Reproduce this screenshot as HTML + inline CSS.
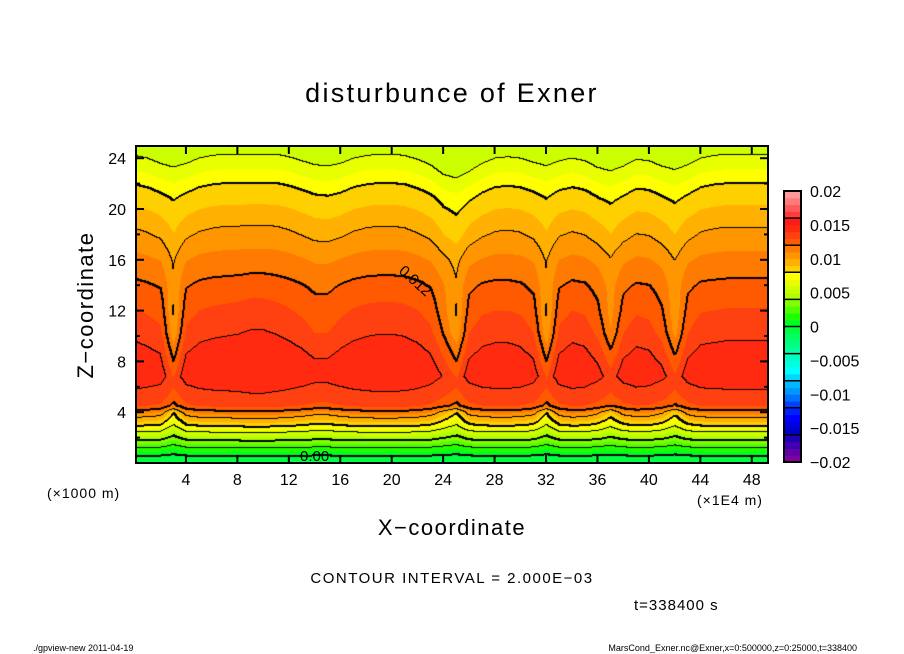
<!DOCTYPE html>
<html><head><meta charset="utf-8"><style>
body{margin:0;background:#fff;width:904px;height:654px;overflow:hidden;position:relative;font-family:"Liberation Sans",sans-serif}
#field{position:absolute;left:136px;top:146px}
#ov{position:absolute;left:0;top:0}
</style></head><body>
<canvas id="field" width="632" height="317"></canvas>
<svg id="ov" width="904" height="654" font-family="Liberation Sans, sans-serif">
<text x="452" y="102" font-size="27" letter-spacing="2.3" text-anchor="middle">disturbunce of Exner</text>
<g id="axes"></g>
<text transform="translate(93,305) rotate(-90)" font-size="22" letter-spacing="1.5" text-anchor="middle">Z−coordinate</text>
<text x="452" y="535" font-size="22" letter-spacing="1.5" text-anchor="middle">X−coordinate</text>
<text x="47" y="498" font-size="14" letter-spacing="1">(×1000 m)</text>
<text x="697" y="505" font-size="14" letter-spacing="1">(×1E4 m)</text>
<text x="452" y="583" font-size="15" letter-spacing="1.5" text-anchor="middle">CONTOUR INTERVAL = 2.000E−03</text>
<text x="634" y="610" font-size="15" letter-spacing="1">t=338400 s</text>
<text x="33" y="651" font-size="9">./gpview-new   2011-04-19</text>
<text x="857" y="651" font-size="9" text-anchor="end">MarsCond_Exner.nc@Exner,x=0:500000,z=0:25000,t=338400</text>
<text transform="translate(398,272) rotate(42)" font-size="15">0.012</text>
<text x="300" y="461" font-size="15">0.00</text>
<g id="cbar"></g>
</svg>
<script>
const xKnots=[0,1,2,3,4,5,6,7,8,9,10,11,12,13,14,15,16,17,18,19,20,21,22,23,24,25,26,27,28,29,30,31,32,33,34,35,36,37,38,39,40,41,42,43,44,45,46,47,48,49,50];
const disp=[0.5,0.8,1.2,5,1.2,0.6,0.4,0.3,0.2,0,0,0.2,0.5,0.9,1.5,1.5,0.9,0.5,0.3,0.2,0.2,0.3,0.6,1.2,3,5,1.5,0.8,0.6,0.6,0.8,1.5,5,1.2,0.6,0.8,1.8,4,1.5,0.8,1,2,4.5,1.5,0.7,0.6,0.5,0.5,0.5,0.5,0.5];
const dispUp=[0.2,0.4,0.8,1,0.8,0.4,0.2,0.1,0.1,0.1,0.1,0.1,0.3,0.6,0.9,1,0.8,0.4,0.2,0.1,0.1,0.2,0.5,0.9,1.6,1.8,1.4,0.8,0.4,0.3,0.4,0.7,0.9,0.6,0.4,0.6,1.1,1.3,1,0.5,0.6,1,1.2,0.9,0.4,0.2,0.1,0.1,0.1,0.1,0.1];
const profZ=[0,0.6,1.2,1.8,2.4,2.9,3.5,4.1,4.5,5.5,8,10.5,13,15,17,18.8,20.5,22.2,23.5,25,30];
const profV=[-0.0008,0,0.002,0.004,0.006,0.008,0.010,0.012,0.0132,0.0140,0.0150,0.0140,0.0130,0.0120,0.0110,0.0100,0.0090,0.0080,0.0068,0.0055,0.0040];
const gZ=[0,2,4,5.5,8,10.3,13,15,17,19,21,30];const gV=[0,-0.05,-0.15,0.2,0.6,0.95,0.6,0.4,0.22,0.08,0,0];
const guZ=[0,14,18,30];const guV=[0,0,1,1];
const hZ=[0,3,5,12,16,25,30];const hV=[0,0.3,1,1,0.3,0,0];
const cbTicks=[0.02,0.015,0.01,0.005,0,-0.005,-0.01,-0.015,-0.02];
const cbColors=["#8000a0","#6000a8","#4000b0","#2000b8","#0000c0","#0000e0","#0000ff","#0020ff","#0040ff","#0070ff","#0098ff","#00b8ff","#00d8ff","#00ffff","#00ffe0","#00ffc0","#00ffa0","#00ff80","#00ff60","#00ff40",
"#00ff20","#20ff00","#50ff00","#80ff00","#b0ff00","#ccff00","#e8ff00","#ffff00","#ffd000","#ffb000","#ff9600","#ff7a00","#ff5a00","#ff4010","#ff2a10","#ff1a1a","#ff3a3a","#ff5a5a","#ff7a7a","#ff9a9a"];
const xTicks=[4,8,12,16,20,24,28,32,36,40,44,48];
const yTicks=[4,8,12,16,20,24];
function interp(xs,ys,x){if(x<=xs[0])return ys[0];for(let i=1;i<xs.length;i++){if(x<=xs[i]){const t=(x-xs[i-1])/(xs[i]-xs[i-1]);return ys[i-1]+t*(ys[i]-ys[i-1]);}}return ys[ys.length-1];}
const X0=134.5,XS=12.86,ZB=463,ZS=12.7;
function sx(x){return X0+x*XS;}function sy(z){return ZB-z*ZS;}
function hex(c){return [parseInt(c.substr(1,2),16),parseInt(c.substr(3,2),16),parseInt(c.substr(5,2),16)];}
const rgb=cbColors.map(hex);
const cv=document.getElementById('field'),ctx=cv.getContext('2d');
const W=cv.width,H=cv.height,F=new Float32Array(W*H);
for(let i=0;i<W;i++){const x=(i+136-X0)/XS;const d=interp(xKnots,disp,x),du=interp(xKnots,dispUp,x);let mx=-1e9;
for(let j=H-1;j>=0;j--){const z=(ZB-(j+146))/ZS;let zz=z+d*interp(gZ,gV,z)+du*interp(guZ,guV,z);if(zz<mx)zz=mx;else mx=zz;
F[j*W+i]=interp(profZ,profV,zz)-d*0.00035*interp(hZ,hV,z);}}
const img=ctx.createImageData(W,H),D=img.data;
for(let k=0;k<W*H;k++){let b=Math.floor((F[k]+0.02)/0.001);b=Math.max(0,Math.min(cbColors.length-1,b));const c=rgb[b];D[k*4]=c[0];D[k*4+1]=c[1];D[k*4+2]=c[2];D[k*4+3]=255;}
function lv(v){return Math.floor(v/0.002+1e-9);}
function blk(i,j){if(i<0||j<0||i>=W||j>=H)return;const k=(j*W+i)*4;D[k]=D[k+1]=D[k+2]=0;}
for(let j=0;j<H;j++)for(let i=0;i<W;i++){const a=lv(F[j*W+i]);const nb=[];if(i+1<W)nb.push(lv(F[j*W+i+1]));if(j+1<H)nb.push(lv(F[(j+1)*W+i]));for(const b of nb){if(b!==a){const m=Math.max(a,b);blk(i,j);if(m%2===0){blk(i,j+1);blk(i+1,j);}}}}
ctx.putImageData(img,0,0);
const NS='http://www.w3.org/2000/svg';
function mk(t,at,p){const e=document.createElementNS(NS,t);for(const k in at)e.setAttribute(k,at[k]);p.appendChild(e);return e;}
const ax=document.getElementById('axes');
const fr=mk('rect',{x:136,y:146,width:632,height:317,fill:'none',stroke:'#000','stroke-width':2},ax);


xTicks.forEach(v=>{const x=sx(v);
mk('line',{x1:x,x2:x,y1:463,y2:455,stroke:'#000','stroke-width':2},ax);
mk('line',{x1:x,x2:x,y1:146,y2:154,stroke:'#000','stroke-width':2},ax);
const t=mk('text',{x:x,y:485,'font-size':16,'text-anchor':'middle'},ax);t.textContent=v;

});
for(let v=2;v<=24;v+=2){const y=sy(v);const L=v%4===0?8:4;
mk('line',{x1:136,x2:136+L,y1:y,y2:y,stroke:'#000','stroke-width':2},ax);
mk('line',{x1:768,x2:768-L,y1:y,y2:y,stroke:'#000','stroke-width':2},ax);}
yTicks.forEach(v=>{const t=mk('text',{x:126,y:sy(v)+6,'font-size':16,'text-anchor':'end'},ax);t.textContent=v;

});
const cb=document.getElementById('cbar');
const cbTop=191,cbBot=462,cbH=(cbBot-cbTop)/40;
for(let b=0;b<40;b++){const r=mk('rect',{x:784,y:cbBot-(b+1)*cbH,width:17,height:cbH+0.5,fill:cbColors[b]},cb);


if(b%4===0&&b>0)mk('line',{x1:784,x2:801,y1:cbBot-b*cbH,y2:cbBot-b*cbH,stroke:'#000','stroke-width':1.5},cb);}
cbTicks.forEach(v=>{const y=cbBot-(v+0.02)/0.04*(cbBot-cbTop);
const t=mk('text',{x:810,y:y+6,'font-size':16},cb);t.textContent=(v<0?'−':'')+Math.abs(v);

});
mk('rect',{x:784,y:cbTop,width:17,height:cbBot-cbTop,fill:'none',stroke:'#000','stroke-width':2},cb);
</script>
</body></html>
